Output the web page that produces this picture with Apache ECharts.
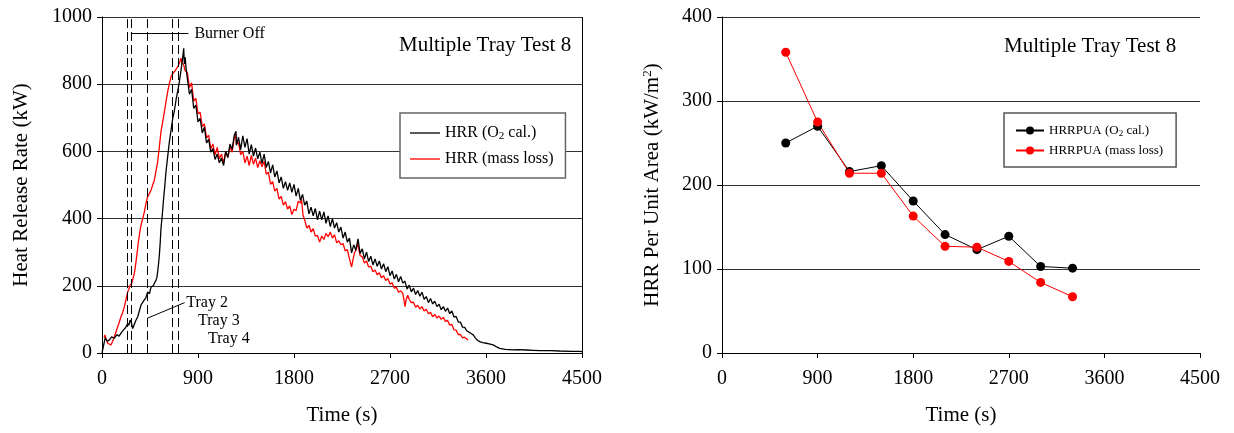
<!DOCTYPE html>
<html>
<head>
<meta charset="utf-8">
<script src="https://cdn.jsdelivr.net/npm/echarts@6/dist/echarts.min.js"></script>
<style>
  html, body { margin: 0; padding: 0; background: #fff; }
  #main { width: 1234px; height: 433px; }
</style>
</head>
<body>
<div id="main"></div>
<script>
// left chart: HRR vs time, [time s, kW]
var hrrO2 = [[0,0],[16,4],[30,45],[38,49],[50,35],[69,39],[90,48],[116,44],[140,55],[160,50],[178,59],[200,68],[220,75],[241,88],[252,82],[263,98],[275,90],[288,73],[300,73],[315,95],[335,108],[350,125],[366,143],[380,138],[397,158],[412,165],[428,182],[445,176],[460,197],[480,200],[495,210],[506,217],[515,225],[522,242],[530,265],[538,292],[546,330],[553,371],[565,410],[575,450],[588,495],[600,540],[616,585],[632,629],[648,665],[663,698],[678,720],[694,753],[710,780],[725,807],[738,835],[747,857],[757,880],[766,907],[772,860],[780,880],[788,847],
    [800,845],[820,770],[840,785],[860,728],[880,738],[900,688],[920,698],[940,655],[960,672],[980,625],[1000,636],[1020,598],[1040,608],[1060,576],[1080,592],[1100,566],[1120,580],[1140,558],[1160,600],[1180,582],[1200,622],[1220,606],[1240,648],[1256,660],[1260,618],[1280,642],[1300,605],[1320,646],[1340,612],[1360,638],[1380,592],[1400,620],[1420,586],[1440,610],[1460,578],[1480,598],[1500,564],[1520,592],[1540,552],[1560,570],[1580,536],[1600,560],[1620,524],[1640,542],[1660,506],[1680,524],[1700,490],[1720,510],[1740,484],[1760,506],[1780,478],[1800,502],[1820,467],[1840,490],[1860,454],[1880,472],[1900,440],[1920,452],[1940,414],[1960,434],[1980,408],[2000,430],[2020,396],[2040,422],[2060,396],[2080,420],[2100,386],[2120,408],[2140,376],[2160,400],[2180,372],[2200,388],[2220,360],[2240,375],[2260,342],[2280,360],[2300,330],[2320,342],[2340,298],[2360,322],[2380,306],[2400,340],[2420,296],[2440,310],[2460,280],[2480,300],[2500,272],[2520,288],[2540,262],[2560,280],[2580,258],[2600,274],[2620,250],[2640,266],[2660,242],[2680,257],[2700,230],[2720,244],[2740,220],[2760,234],[2780,212],[2800,228],[2820,208],[2840,214],[2860,190],[2880,202],[2900,182],[2920,193],[2940,174],[2960,186],[2980,169],[3000,181],[3020,160],[3040,168],[3060,150],[3080,162],[3100,146],[3120,154],[3140,138],[3160,145],[3180,129],[3200,138],[3220,124],[3240,134],[3260,117],[3280,125],[3300,107],[3320,109],[3340,92],[3360,92],[3380,77],[3400,76],[3420,66],[3440,62],[3460,58],[3480,54],[3500,45],[3520,38],[3541,34],[3570,31],[3603,29],[3630,27],[3666,24],[3700,18],[3728,14],[3780,11],[3853,9],[3900,10],[3978,9],[4040,8],[4103,7],[4200,7],[4291,6],[4400,5],[4478,5],[4500,4]]

var hrrMass = [[20,45],[28,54],[40,40],[53,29],[65,26],[84,24],[100,35],[116,49],[130,62],[147,78],[160,90],[178,108],[195,122],[210,138],[225,160],[241,182],[252,190],[263,202],[280,208],[294,212],[305,240],[319,272],[330,300],[341,331],[352,355],[366,381],[380,398],[397,420],[412,445],[428,465],[445,475],[460,485],[475,500],[491,515],[505,540],[522,569],[538,615],[553,659],[570,690],[585,718],[600,748],[616,778],[630,800],[647,822],[660,830],[678,837],[695,845],[710,852],[725,862],[741,877],[750,865],[766,857],[780,840],
    [800,835],[820,790],[840,804],[860,750],[880,758],[900,712],[920,716],[940,674],[960,682],[980,640],[1000,648],[1020,608],[1040,622],[1060,590],[1080,612],[1100,578],[1120,592],[1140,566],[1160,600],[1180,582],[1200,614],[1220,598],[1240,640],[1256,648],[1260,622],[1280,626],[1300,590],[1320,600],[1340,566],[1360,586],[1380,558],[1400,588],[1420,562],[1440,580],[1460,552],[1480,572],[1500,554],[1520,570],[1540,532],[1560,538],[1580,502],[1600,510],[1620,482],[1640,490],[1660,458],[1680,466],[1700,440],[1720,450],[1740,428],[1760,438],[1780,412],[1800,428],[1820,424],[1840,452],[1860,446],[1870,458],[1885,410],[1900,396],[1920,372],[1940,380],[1960,360],[1980,370],[2000,348],[2020,350],[2040,330],[2060,348],[2080,338],[2100,356],[2120,346],[2140,360],[2160,342],[2180,352],[2200,328],[2220,334],[2240,322],[2260,326],[2280,304],[2300,308],[2320,280],[2340,256],[2355,280],[2366,297],[2380,306],[2397,326],[2420,290],[2440,286],[2460,268],[2480,274],[2500,256],[2520,258],[2540,242],[2560,247],[2580,233],[2600,239],[2620,224],[2640,230],[2660,216],[2680,222],[2700,205],[2720,209],[2740,193],[2760,196],[2780,181],[2800,185],[2819,178],[2830,160],[2841,138],[2852,160],[2866,172],[2880,160],[2900,150],[2920,151],[2940,136],[2960,142],[2980,131],[3000,138],[3020,125],[3040,130],[3060,117],[3080,121],[3100,108],[3120,115],[3140,104],[3160,110],[3180,100],[3200,106],[3220,94],[3240,97],[3260,83],[3280,85],[3300,69],[3320,68],[3340,55],[3360,55],[3380,45],[3400,47],[3431,39]]

// tray ignition / burner off times (s)
var trayLines = [240, 270, 420, 660, 715]
var burnerOff = [[270, 951], [810, 951]]
var trayLeader = [[422, 103], [775, 150]]
var trayLabels = [
    { name: 'Tray 2', coord: [790, 150] },
    { name: 'Tray 3', coord: [900, 96] },
    { name: 'Tray 4', coord: [994, 42] }
]

// right chart: HRRPUA per 300 s
var puaTime = [600, 900, 1200, 1500, 1800, 2100, 2400, 2700, 3000, 3300]
var puaO2 = [250, 270, 216, 223, 181, 141, 123, 139, 103, 101]
var puaMass = [358, 275, 214, 214, 163, 127, 126, 109, 84, 67]

var FONT = '"Liberation Serif", "Times New Roman", serif'

function pairs (xs, ys) {
    var out = []
    for (var i = 0; i < xs.length; i++) {
        out.push([xs[i], ys[i]])
    }
    return out
}

function plain (v) {
    return String(v)
}

var myChart = echarts.init(document.getElementById('main'))

var vLines = trayLines.map(function (t) {
    return { xAxis: t, lineStyle: { type: [9, 4], color: '#000', width: 1 } }
})
vLines.push([{ coord: burnerOff[0] }, {
    coord: burnerOff[1],
    label: { show: true, position: 'end', formatter: 'Burner Off', distance: 6, fontSize: 16, fontFamily: FONT, color: '#000' }
}])
vLines.push([{ coord: trayLeader[0] }, { coord: trayLeader[1] }])
// right border of the left plot
vLines.push({ xAxis: 4500, lineStyle: { type: 'solid', color: '#000', width: 1 } })

function xAxisCfg (idx) {
    return {
        gridIndex: idx,
        type: 'value',
        min: 0,
        max: 4500,
        interval: 900,
        name: 'Time (s)',
        nameLocation: 'middle',
        nameGap: 52,
        nameTextStyle: { fontSize: 21, fontFamily: FONT, color: '#000' },
        axisLine: { lineStyle: { color: '#000', width: 1 } },
        axisTick: { length: 5, lineStyle: { color: '#000' } },
        axisLabel: { fontSize: 20, fontFamily: FONT, color: '#000', margin: 16, formatter: plain },
        splitLine: { show: false }
    }
}

function yAxisCfg (idx, max, interval, name, gap) {
    return {
        gridIndex: idx,
        type: 'value',
        min: 0,
        max: max,
        interval: interval,
        name: name,
        nameLocation: 'middle',
        nameGap: gap,
        nameTextStyle: {
            fontSize: 21, fontFamily: FONT, color: '#000',
            rich: { sup: { fontSize: 13, fontFamily: FONT, color: '#000', padding: [0, 0, 10, 0] } }
        },
        axisLine: { show: true, lineStyle: { color: '#000', width: 1 } },
        axisTick: { show: true, length: 5, lineStyle: { color: '#000' } },
        axisLabel: { fontSize: 20, fontFamily: FONT, color: '#000', margin: 10, formatter: plain },
        splitLine: { show: true, lineStyle: { color: '#333', width: 1 } }
    }
}

var option = {
    animation: false,
    backgroundColor: '#fff',
    title: [
        { text: 'Multiple Tray Test 8', left: 394, top: 30, textStyle: { fontSize: 21, fontWeight: 'normal', fontFamily: FONT, color: '#000' } },
        { text: 'Multiple Tray Test 8', left: 999, top: 31, textStyle: { fontSize: 21, fontWeight: 'normal', fontFamily: FONT, color: '#000' } }
    ],
    grid: [
        { left: 102, right: 652, top: 17, bottom: 80 },
        { left: 722, right: 34, top: 17, bottom: 80 }
    ],
    legend: [
        {
            data: [
                { name: 'HRR (O2 cal.)', icon: 'rect' },
                { name: 'HRR (mass loss)', icon: 'rect' }
            ],
            orient: 'vertical',
            left: 400,
            top: 113,
            backgroundColor: '#fff',
            borderColor: '#666',
            borderWidth: 1.5,
            borderRadius: 0,
            padding: [12, 12, 11, 10],
            itemWidth: 30,
            itemHeight: 1.3,
            itemGap: 9,
            textStyle: { fontSize: 16, fontFamily: FONT, color: '#000', rich: { n: { fontSize: 16, fontFamily: FONT }, s: { fontSize: 11, fontFamily: FONT, padding: [7, 0, 0, 0] } } },
            formatter: function (name) {
                if (name === 'HRR (O2 cal.)') return '{n|HRR (O}{s|2}{n| cal.)}'
                return name
            }
        },
        {
            data: ['HRRPUA (O2 cal.)', 'HRRPUA (mass loss)'],
            orient: 'vertical',
            left: 1004,
            top: 113,
            backgroundColor: '#fff',
            borderColor: '#555',
            borderWidth: 1.5,
            padding: [11, 13, 10, 11],
            itemWidth: 28,
            itemHeight: 10,
            itemGap: 6,
            textStyle: { fontSize: 13, fontFamily: FONT, color: '#000', rich: { n: { fontSize: 13, fontFamily: FONT }, s: { fontSize: 9, fontFamily: FONT, padding: [6, 0, 0, 0] } } },
            formatter: function (name) {
                if (name === 'HRRPUA (O2 cal.)') return '{n|HRRPUA (O}{s|2}{n| cal.)}'
                return name
            }
        }
    ],
    xAxis: [xAxisCfg(0), xAxisCfg(1)],
    yAxis: [
        yAxisCfg(0, 1000, 200, 'Heat Release Rate (kW)', 70),
        yAxisCfg(1, 400, 100, 'HRR Per Unit Area (kW/m{sup|2})', 58)
    ],
    series: [
        {
            name: 'HRR (O2 cal.)',
            type: 'line',
            xAxisIndex: 0,
            yAxisIndex: 0,
            symbol: 'none',
            lineStyle: { color: '#000', width: 1.3 },
            itemStyle: { color: '#000' },
            data: hrrO2,
            z: 3,
            markLine: {
                silent: true,
                symbol: 'none',
                animation: false,
                label: { show: false },
                lineStyle: { type: 'solid', color: '#000', width: 1 },
                data: vLines
            },
            markPoint: {
                silent: true,
                symbol: 'circle',
                symbolSize: 0,
                label: { show: true, position: 'right', distance: 0, fontSize: 16, fontFamily: FONT, color: '#000', formatter: '{b}' },
                data: trayLabels
            }
        },
        {
            name: 'HRR (mass loss)',
            type: 'line',
            xAxisIndex: 0,
            yAxisIndex: 0,
            symbol: 'none',
            lineStyle: { color: '#ff0000', width: 1.3 },
            itemStyle: { color: '#ff0000' },
            data: hrrMass,
            z: 2
        },
        {
            name: 'HRRPUA (O2 cal.)',
            type: 'line',
            xAxisIndex: 1,
            yAxisIndex: 1,
            symbol: 'circle',
            symbolSize: 9,
            lineStyle: { color: '#000', width: 1 },
            itemStyle: { color: '#000' },
            data: pairs(puaTime, puaO2)
        },
        {
            name: 'HRRPUA (mass loss)',
            type: 'line',
            xAxisIndex: 1,
            yAxisIndex: 1,
            symbol: 'circle',
            symbolSize: 9,
            lineStyle: { color: '#ff0000', width: 1 },
            itemStyle: { color: '#ff0000' },
            data: pairs(puaTime, puaMass)
        }
    ]
}

myChart.setOption(option)
</script>
</body>
</html>
